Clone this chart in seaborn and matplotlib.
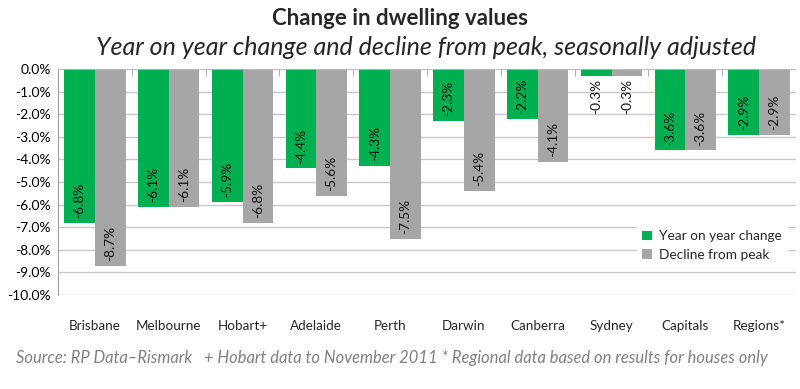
import matplotlib
matplotlib.use("Agg")
import matplotlib.pyplot as plt
import matplotlib.ticker as mticker
from matplotlib.patches import Patch
import seaborn as sns
import pandas as pd
from matplotlib import transforms

categories = ["Brisbane", "Melbourne", "Hobart+", "Adelaide", "Perth",
              "Darwin", "Canberra", "Sydney", "Capitals", "Regions*"]
yoy_change = [-6.8, -6.1, -5.9, -4.4, -4.3, -2.3, -2.2, -0.3, -3.6, -2.9]
decline_peak = [-8.7, -6.1, -6.8, -5.6, -7.5, -5.4, -4.1, -0.3, -3.6, -2.9]
series_names = ["Year on year change", "Decline from peak"]
y_ticks = [0, -1, -2, -3, -4, -5, -6, -7, -8, -9, -10]

GREEN = "#00B050"
GRAY = "#A6A6A6"

df = pd.DataFrame({
    "city": categories * 2,
    "value": yoy_change + decline_peak,
    "series": [series_names[0]] * len(categories) + [series_names[1]] * len(categories),
})

sns.set_style("white")
plt.rcParams["font.family"] = ["Lato", "DejaVu Sans"]

fig = plt.figure(figsize=(8, 3.89), dpi=100)
ax = fig.add_axes([0.0725, 0.2416, 0.9225, 0.581])

sns.barplot(data=df, x="city", y="value", hue="series", order=categories,
            hue_order=series_names, palette=[GREEN, GRAY], width=0.83,
            saturation=1, ax=ax, legend=False, linewidth=0)

ax.set_ylim(-10, 0)
ax.set_xlim(-0.5, len(categories) - 0.5)
ax.set_yticks(y_ticks)
ax.yaxis.set_major_formatter(mticker.FuncFormatter(lambda v, p: f"{v:.1f}%"))
ax.grid(axis="y", color="#C8C8C8", linewidth=1)
ax.set_axisbelow(True)
ax.set_xlabel("")
ax.set_ylabel("")
for s in ["top", "right", "bottom"]:
    ax.spines[s].set_visible(False)
ax.spines["left"].set_color("#A0A0A0")
ax.tick_params(axis="y", labelsize=10, length=0, pad=5, colors="#000000")
ax.tick_params(axis="x", labelsize=9.7, length=0, pad=18)
ax.axhline(0, color="#BDBDBD", linewidth=1.2, zorder=3)
ax.set_xticks(range(len(categories)))
ax.set_xticks([i + 0.5 for i in range(len(categories) - 1)], minor=True)
ax.tick_params(axis="x", which="minor", top=True, bottom=False, direction="in",
               length=5, color="#A0A0A0")

# data labels
for container in ax.containers:
    for bar in container:
        val = min(bar.get_y(), bar.get_y() + bar.get_height())
        xc = bar.get_x() + bar.get_width() / 2
        label = f"{val:.1f}%"
        if abs(val) < 1.5:
            tr = transforms.offset_copy(ax.transData, fig=fig, x=0, y=-2, units="points")
            ax.text(xc, val, label, rotation=90, ha="center", va="top",
                    fontsize=9.8, transform=tr, color="#111111")
        else:
            tr = transforms.offset_copy(ax.transData, fig=fig, x=0, y=3.5, units="points")
            ax.text(xc, val, label, rotation=90, ha="center", va="bottom",
                    fontsize=9.8, transform=tr, color="#111111")

# legend
handles = [Patch(facecolor=GREEN, edgecolor="none"), Patch(facecolor=GRAY, edgecolor="none")]
leg = ax.legend(handles, series_names, loc="upper left", bbox_to_anchor=(0.775, 0.34),
                frameon=True, fontsize=9.8, handlelength=0.7, handleheight=0.7,
                handletextpad=0.5, labelspacing=0.45, borderpad=0.4, fancybox=False)
leg.get_frame().set_edgecolor("white")
leg.get_frame().set_facecolor("white")
leg.get_frame().set_alpha(1)

fig.text(0.5, 0.952, "Change in dwelling values", ha="center", va="center",
         fontsize=16, fontweight="bold")
fig.text(0.533, 0.877, "Year on year change and decline from peak, seasonally adjusted",
         ha="center", va="center", fontsize=18, style="italic")
fig.text(0.49, 0.08, "Source: RP Data\u2013Rismark   + Hobart data to November 2011 * Regional data based on results for houses only",
         ha="center", va="center", fontsize=11.9, style="italic", color="#808080")

fig.savefig("out.png", dpi=100)
